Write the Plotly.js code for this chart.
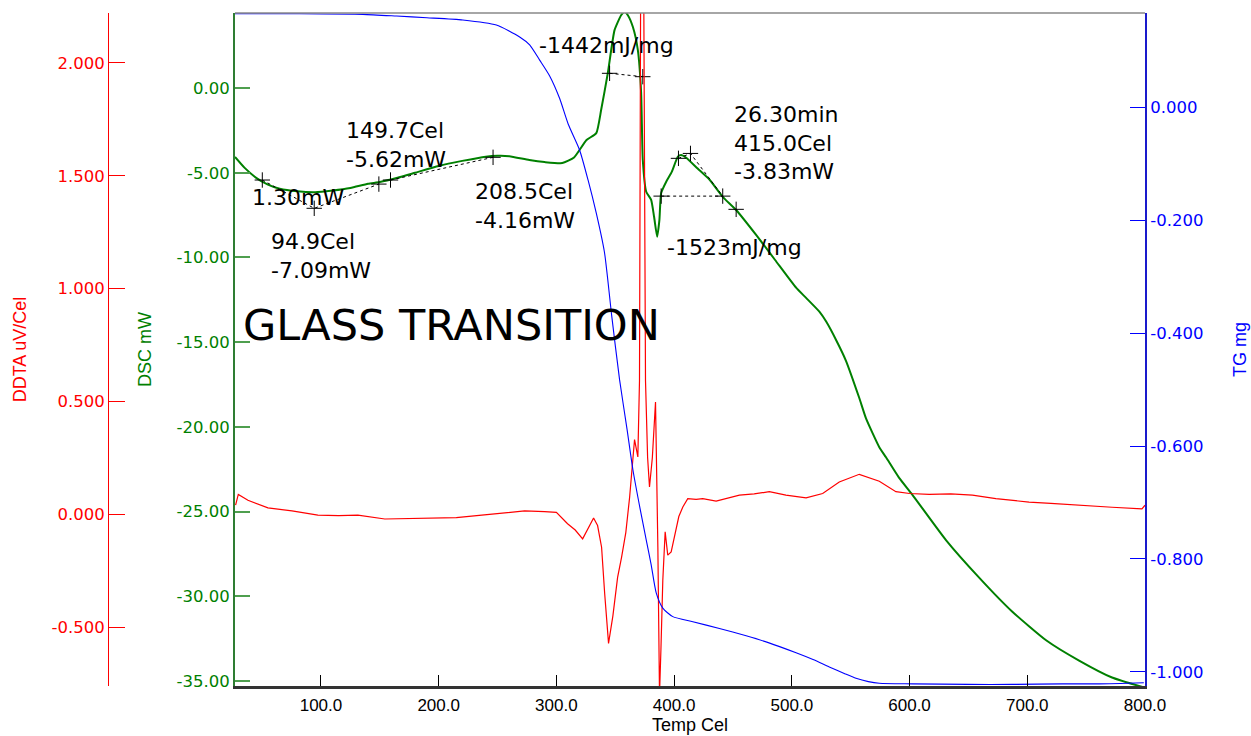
<!DOCTYPE html>
<html>
<head>
<meta charset="utf-8">
<script src="https://cdn.plot.ly/plotly-3.0.1.min.js"></script>
<style>html,body{margin:0;padding:0;background:#fff;}#chart{width:1251px;height:736px;}</style>
</head>
<body>
<div id="chart"></div>
<script>
// ---- DSC (green, mW) ----
var dscT = [27, 35, 45, 55, 65, 80, 95, 110, 125, 140, 150, 165, 180, 200, 220, 240, 250, 260, 277, 290, 305, 315, 325.6, 333.9, 338, 343.7, 349.4, 355, 358, 360.7, 365, 369.2, 372, 373.4, 376.3, 380.5, 383, 385.6, 387.5, 389, 393.3, 398, 403.2, 406, 410, 420, 430, 441.3, 452.7, 470, 485.8, 503.8, 512.3, 523.4, 529.3, 537.8, 546, 557.3, 563, 574.3, 580, 591, 602.3, 631.1, 659.1, 687.1, 716, 744, 772, 800];
var dscMW = [-4.07, -4.7, -5.3, -5.7, -5.95, -6.1, -6.15, -6.05, -5.9, -5.65, -5.55, -5.3, -5.0, -4.6, -4.3, -4.05, -4.0, -4.02, -4.25, -4.37, -4.43, -4.1, -3.07, -2.66, -1.3, 0.89, 3.42, 4.3, 4.5, 4.3, 3.6, 2.24, -0.3, -4.25, -6.12, -6.6, -7.6, -8.78, -7.8, -6.2, -5.53, -4.95, -4.05, -3.95, -4.1, -4.75, -5.4, -6.42, -7.2, -8.7, -10.15, -11.8, -12.4, -13.2, -13.8, -14.9, -16.1, -18.3, -19.5, -21.2, -21.8, -23.0, -24.0, -26.7, -28.9, -30.9, -32.6, -33.8, -34.8, -35.4];

// ---- DDTA (red, uV/Cel) ----
var ddtaT = [27.5, 29.8, 38, 55, 75.4, 97.4, 115, 131.4, 154.3, 175, 196.7, 215, 236.6, 255, 273, 290, 300, 309.5, 316, 322.3, 327, 331.6, 335, 338.4, 341, 344.3, 348, 352, 355.4, 359, 362.2, 366.4, 369.2, 370.6, 371.5, 372.8, 374.3, 375.7, 377.5, 379.1, 381.5, 384.2, 386.2, 387.6, 388.8, 390.4, 392.4, 394.6, 397.5, 401.8, 404, 407.4, 410.3, 411.6, 418.7, 424.3, 435.7, 445, 455.5, 468, 480.9, 495, 512.1, 526.2, 540.3, 557.3, 574.3, 588.4, 600, 616.7, 635, 653.4, 673.3, 690, 701.5, 720, 744, 772, 797.4, 800];
var ddtaV = [0.04, 0.088, 0.062, 0.028, 0.015, -0.004, -0.006, -0.004, -0.021, -0.02, -0.019, -0.015, -0.004, 0.005, 0.015, 0.012, 0.008, -0.042, -0.07, -0.109, -0.06, -0.017, -0.05, -0.146, -0.35, -0.572, -0.45, -0.28, -0.19, -0.08, 0.075, 0.331, 0.254, 0.593, 2.22, 3.5, 2.22, 0.593, 0.25, 0.121, 0.25, 0.497, -0.145, -0.8, -0.6, -0.292, -0.078, -0.181, -0.167, -0.056, -0.01, 0.032, 0.062, 0.069, 0.066, 0.069, 0.058, 0.07, 0.085, 0.09, 0.1, 0.085, 0.073, 0.092, 0.143, 0.177, 0.146, 0.1, 0.092, 0.088, 0.09, 0.085, 0.069, 0.06, 0.054, 0.048, 0.039, 0.031, 0.024, 0.04];

// ---- TG (blue, mg) ----
var tgT = [27, 82, 135.6, 164.2, 190, 220.5, 249, 268.8, 277.3, 285.8, 294.3, 302.8, 310, 319.7, 327, 333.9, 340.9, 346.9, 353.7, 360, 365, 371, 376.3, 380.5, 384.8, 390.4, 398.9, 415.9, 438.5, 461.2, 480, 503.6, 518, 531.8, 545, 554.5, 565, 574.3, 602.3, 650, 687.1, 730, 761, 799];
var tgMg = [0.165, 0.165, 0.164, 0.161, 0.158, 0.154, 0.145, 0.124, 0.110, 0.083, 0.055, 0.015, -0.03, -0.076, -0.13, -0.188, -0.258, -0.368, -0.483, -0.57, -0.642, -0.71, -0.766, -0.81, -0.86, -0.887, -0.902, -0.911, -0.923, -0.936, -0.948, -0.966, -0.978, -0.991, -1.003, -1.011, -1.017, -1.020, -1.021, -1.022, -1.022, -1.021, -1.021, -1.019];

// ---- analysis marks (crosses and tangent lines, on DSC axis) ----
var markT = [50.2, 94.3, 149.2, 159.1, 246.2, 345.2, 373.4, 389, 441.3, 403.7, 413.9, 452.7];
var markMW = [-5.43, -7.1, -5.67, -5.43, -4.09, 0.87, 0.67, -6.38, -6.38, -4.15, -3.86, -7.16];
var tanT = [50.2, 94.3, 149.2, null, 159.1, 246.2, null, 345.2, 373.4, null, 389, 441.3, null, 403.7, 413.9, 441.3];
var tanMW = [-5.43, -7.1, -5.67, null, -5.43, -4.09, null, 0.87, 0.67, null, -6.38, -6.38, null, -4.15, -3.86, -6.38];

// ---- annotation texts ----
var noteText = ["-1442mJ/mg", "149.7Cel<br>-5.62mW", "1.30mW", "94.9Cel<br>-7.09mW", "208.5Cel<br>-4.16mW", "26.30min<br>415.0Cel<br>-3.83mW", "-1523mJ/mg"];
var noteT = [283.5, 119.5, 40, 56, 229, 448.8, 392];
var noteMW = [2.54, -3.36, -6.49, -9.89, -6.97, -3.25, -9.39];

// ---- tick labels ----
var xTicks = [100, 200, 300, 400, 500, 600, 700, 800];
var xTickText = ["100.0", "200.0", "300.0", "400.0", "500.0", "600.0", "700.0", "800.0"];
var dscTicks = [0, -5, -10, -15, -20, -25, -30, -35];
var dscTickText = ["0.00", "-5.00", "-10.00", "-15.00", "-20.00", "-25.00", "-30.00", "-35.00"];
var ddtaTicks = [2.0, 1.5, 1.0, 0.5, 0.0, -0.5];
var ddtaTickText = ["2.000", "1.500", "1.000", "0.500", "0.000", "-0.500"];
var tgTicks = [0, -0.2, -0.4, -0.6, -0.8, -1.0];
var tgTickText = ["0.000", "-0.200", "-0.400", "-0.600", "-0.800", "-1.000"];

var GREEN = "#008000", RED = "#ff0000", BLUE = "#0000ff";
var xDom = [235/1251, 1145/1251];

var traces = [
  {x: ddtaT, y: ddtaV, yaxis: "y2", mode: "lines", line: {color: RED, width: 1.2}, hoverinfo: "skip"},
  {x: tgT, y: tgMg, yaxis: "y3", mode: "lines", line: {color: BLUE, width: 1.1, shape: "spline", smoothing: 0.6}, hoverinfo: "skip"},
  {x: dscT, y: dscMW, yaxis: "y", mode: "lines", line: {color: GREEN, width: 2, shape: "spline", smoothing: 0.5}, hoverinfo: "skip"},
  {x: tanT, y: tanMW, yaxis: "y", mode: "lines", line: {color: "#000", width: 1, dash: "dot"}, connectgaps: false, hoverinfo: "skip"},
  {x: markT, y: markMW, yaxis: "y", mode: "markers", marker: {symbol: "cross-thin", size: 11, line: {color: "#000", width: 1}}, hoverinfo: "skip"}
];

var annFont = {family: "DejaVu Sans", size: 22, color: "#000"};
var annotations = noteText.map(function(t, i){
  return {x: noteT[i], y: noteMW[i], xref: "x", yref: "y", text: t, showarrow: false,
          xanchor: "left", yanchor: "middle", align: "left", font: annFont};
});
annotations.push({x: 32.5, y: -14.0, xref: "x", yref: "y", text: "GLASS TRANSITION", showarrow: false,
  xanchor: "left", yanchor: "middle", font: {family: "DejaVu Sans", size: 43, color: "#000"}});

var layout = {
  width: 1251, height: 736,
  margin: {l: 0, r: 0, t: 13, b: 50, pad: 0},
  paper_bgcolor: "#fff", plot_bgcolor: "#fff",
  showlegend: false,
  xaxis: {
    domain: xDom, range: [27, 800], tickmode: "array", tickvals: xTicks, ticktext: xTickText,
    ticks: "inside", ticklen: 11, tickwidth: 1, tickcolor: "#000",
    showline: true, linecolor: "#333", linewidth: 3, showgrid: false, zeroline: false,
    tickfont: {family: "Liberation Sans", size: 17, color: "#000"}, ticklabelstandoff: 2,
    title: {text: "Temp Cel", font: {family: "Liberation Sans", size: 18, color: "#000"}, standoff: 3}
  },
  yaxis: {
    range: [-35.3, 4.43], tickmode: "array", tickvals: dscTicks, ticktext: dscTickText,
    ticks: "inside", ticklen: 15, tickwidth: 2, tickcolor: "#4f9f4f",
    showline: true, linecolor: "#2e7d32", linewidth: 2, showgrid: false, zeroline: false,
    tickfont: {family: "DejaVu Sans", size: 16.5, color: GREEN},
    title: {text: "DSC mW", font: {family: "Liberation Sans", size: 18, color: GREEN}, standoff: 20}
  },
  yaxis2: {
    overlaying: "y", anchor: "free", position: 108/1251, side: "left",
    range: [-0.761, 2.221], tickmode: "array", tickvals: ddtaTicks, ticktext: ddtaTickText,
    ticks: "inside", ticklen: 16, tickwidth: 1, tickcolor: RED,
    showline: true, linecolor: RED, linewidth: 1, showgrid: false, zeroline: false,
    tickfont: {family: "DejaVu Sans", size: 16.5, color: RED},
    title: {text: "DDTA uV/Cel", font: {family: "Liberation Sans", size: 18, color: RED}, standoff: 19}
  },
  yaxis3: {
    overlaying: "y", anchor: "x", side: "right",
    range: [-1.0248, 0.1664], tickmode: "array", tickvals: tgTicks, ticktext: tgTickText,
    ticks: "inside", ticklen: 15, tickwidth: 1, tickcolor: BLUE,
    showline: true, linecolor: "#1a1acc", linewidth: 2, showgrid: false, zeroline: false,
    tickfont: {family: "DejaVu Sans", size: 16.5, color: BLUE},
    title: {text: "TG mg", font: {family: "Liberation Sans", size: 18, color: BLUE}, standoff: 31}
  },
  shapes: [
    {type: "line", xref: "paper", yref: "paper", x0: xDom[0], x1: xDom[1], y0: 1, y1: 1, line: {color: "#888", width: 1.5}}
  ],
  annotations: annotations
};

Plotly.newPlot("chart", traces, layout, {displayModeBar: false, staticPlot: true});
</script>
</body>
</html>
